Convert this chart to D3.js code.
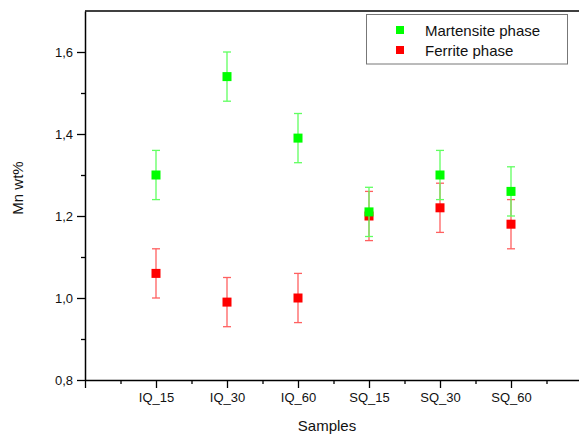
<!DOCTYPE html>
<html>
<head>
<meta charset="utf-8">
<script src="https://cdn.jsdelivr.net/npm/d3@7"></script>
<style>
  body { margin: 0; background: #fff; }
  svg { display: block; font-family: "Liberation Sans", Arial, sans-serif; }
</style>
</head>
<body>
<div id="chart"></div>
<script>
var samples = ["IQ_15", "IQ_30", "IQ_60", "SQ_15", "SQ_30", "SQ_60"];
var martensite = [1.30, 1.54, 1.39, 1.21, 1.30, 1.26];
var martensiteErr = [0.06, 0.06, 0.06, 0.06, 0.06, 0.06];
var ferrite = [1.06, 0.99, 1.00, 1.20, 1.22, 1.18];
var ferriteErr = [0.06, 0.06, 0.06, 0.06, 0.06, 0.06];
var yTicks = [0.8, 1.0, 1.2, 1.4, 1.6];
var yMinor = [0.9, 1.1, 1.3, 1.5];

var width = 579, height = 436;
var plotLeft = 85, plotTop = 11, plotBottom = 380;

var svg = d3.select("#chart").append("svg")
  .attr("width", width)
  .attr("height", height);

var x = d3.scaleLinear().domain([0, 7]).range([plotLeft, plotLeft + 497]);
var y = d3.scaleLinear().domain([0.8, 1.7]).range([plotBottom, plotTop]);

var fmt = function(d){ return d3.format(".1f")(d).replace(".", ","); };

// top frame line
svg.append("line").attr("x1", plotLeft).attr("x2", width).attr("y1", plotTop).attr("y2", plotTop)
  .attr("stroke", "#000").attr("stroke-width", 1.5);

// y axis
svg.append("g").attr("transform", "translate(" + plotLeft + ",0)")
  .call(d3.axisLeft(y).tickValues(yTicks).tickFormat(fmt).tickSize(8).tickPadding(4).tickSizeOuter(0));
svg.append("g").attr("class", "minor").attr("transform", "translate(" + plotLeft + ",0)")
  .call(d3.axisLeft(y).tickValues(yMinor).tickFormat("").tickSize(4))
  .select(".domain").remove();

// x axis
svg.append("g").attr("transform", "translate(0," + plotBottom + ")")
  .call(d3.axisBottom(x).tickValues(d3.range(0, 7)).tickFormat(function(d){ return d > 0 ? samples[d - 1] : ""; })
    .tickSize(8).tickPadding(5).tickSizeOuter(0));
svg.append("g").attr("class", "minor").attr("transform", "translate(0," + plotBottom + ")")
  .call(d3.axisBottom(x).tickValues([0.5, 1.5, 2.5, 3.5, 4.5, 5.5, 6.5]).tickFormat("").tickSize(4))
  .select(".domain").remove();

svg.selectAll(".domain").attr("stroke", "#000").attr("stroke-width", 1.5);
svg.selectAll(".tick line").attr("stroke", "#000").attr("stroke-width", 1.3);
svg.selectAll(".tick text").attr("font-size", 13).attr("fill", "#111")
  .attr("font-family", "'Liberation Sans', Arial, sans-serif");

// axis titles
svg.append("text").attr("x", 327).attr("y", 431).attr("text-anchor", "middle")
  .attr("font-size", 15).attr("fill", "#111").text("Samples");
svg.append("text").attr("transform", "translate(23,188) rotate(-90)").attr("text-anchor", "middle")
  .attr("font-size", 15).attr("fill", "#111").text("Mn wt%");

// series
function drawSeries(vals, errs, barColor, markColor) {
  var g = svg.append("g");
  var pts = vals.map(function(v, i){ return { i: i + 1, v: v, e: errs[i] }; });
  g.selectAll(".bar").data(pts).enter().append("line")
    .attr("x1", function(d){ return x(d.i); }).attr("x2", function(d){ return x(d.i); })
    .attr("y1", function(d){ return y(d.v - d.e); }).attr("y2", function(d){ return y(d.v + d.e); })
    .attr("stroke", barColor).attr("stroke-width", 1.3);
  [-1, 1].forEach(function(s){
    g.selectAll(".cap" + s).data(pts).enter().append("line")
      .attr("x1", function(d){ return x(d.i) - 4; }).attr("x2", function(d){ return x(d.i) + 4; })
      .attr("y1", function(d){ return y(d.v + s * d.e); }).attr("y2", function(d){ return y(d.v + s * d.e); })
      .attr("stroke", barColor).attr("stroke-width", 1.3);
  });
  g.selectAll("rect").data(pts).enter().append("rect")
    .attr("x", function(d){ return x(d.i) - 4.5; })
    .attr("y", function(d){ return y(d.v) - 4.5; })
    .attr("width", 9).attr("height", 9)
    .attr("fill", markColor);
}
drawSeries(ferrite, ferriteErr, "#ff6060", "#ff0000");
drawSeries(martensite, martensiteErr, "#60ff60", "#00ff00");

// legend
var lg = svg.append("g");
lg.append("rect").attr("x", 366.5).attr("y", 14.5).attr("width", 201).attr("height", 49.5)
  .attr("fill", "#fff").attr("stroke", "#777").attr("stroke-width", 1);
var legendItems = [["Martensite phase", "#00ff00"], ["Ferrite phase", "#ff0000"]];
legendItems.forEach(function(it, k){
  lg.append("rect").attr("x", 396).attr("y", 26 + k * 20).attr("width", 8).attr("height", 8).attr("fill", it[1]);
  lg.append("text").attr("x", 425).attr("y", 35.5 + k * 20).attr("font-size", 15).attr("fill", "#111").text(it[0]);
});
</script>
</body>
</html>
